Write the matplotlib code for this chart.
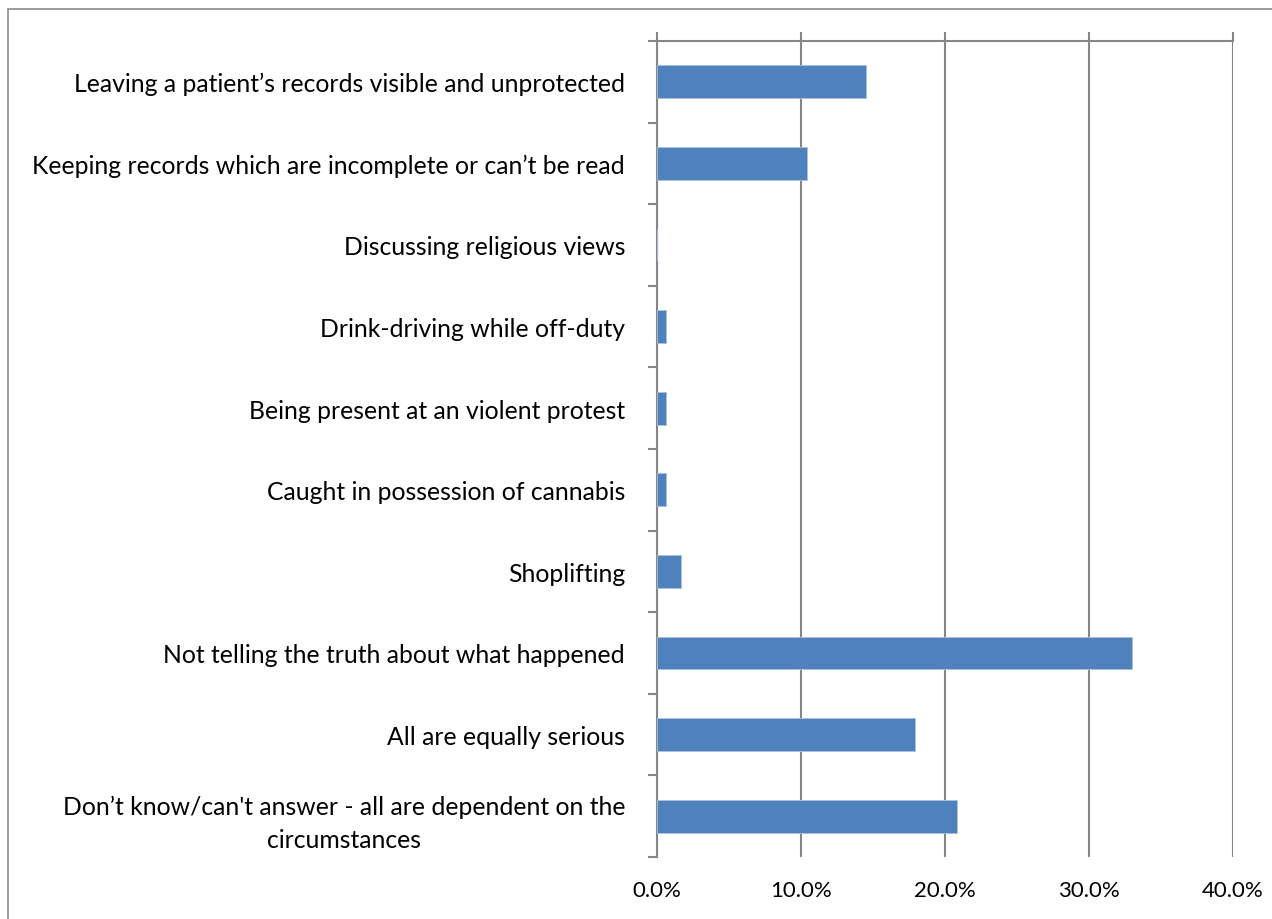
import matplotlib.pyplot as plt
from matplotlib.patches import Rectangle
from matplotlib.ticker import FuncFormatter, MultipleLocator
import numpy as np

categories = [
    "Leaving a patient\u2019s records visible and unprotected",
    "Keeping records which are incomplete or can\u2019t be read",
    "Discussing religious views",
    "Drink-driving while off-duty",
    "Being present at an violent protest",
    "Caught in possession of cannabis",
    "Shoplifting",
    "Not telling the truth about what happened",
    "All are equally serious",
    "Don\u2019t know/can't answer - all are dependent on the\ncircumstances",
]
values = [14.5, 10.4, 0.0, 0.6, 0.6, 0.6, 1.7, 33.0, 17.9, 20.8]

plt.rcParams['font.family'] = ['Lato', 'DejaVu Sans']
grey = '#868686'

fig = plt.figure(figsize=(12.72, 9.2), dpi=100)
ax = fig.add_axes([657 / 1272, 1 - 858 / 920, (1233 - 657) / 1272, (858 - 42) / 920])

y = np.arange(len(categories))
ax.barh(y, values, height=0.4, color='#4F81BD', edgecolor='#A9C1DF', linewidth=0.6, zorder=3)

ax.set_xlim(0, 40)
ax.set_ylim(len(categories) - 0.5, -0.5)
ax.set_yticks(y)
ax.set_yticklabels(categories, fontsize=17.8, multialignment='center', linespacing=1.5)
ax.set_yticks(np.arange(-0.5, len(categories)), minor=True)
ax.tick_params(axis='y', which='major', length=0, pad=23)
ax.tick_params(axis='y', which='minor', length=6.5, width=1.5, color=grey, direction='out')

ax.xaxis.set_major_locator(MultipleLocator(10))
ax.xaxis.set_major_formatter(FuncFormatter(lambda v, p: f"{v:.1f}%"))
ax.tick_params(axis='x', top=True, bottom=False, labeltop=False, labelbottom=True,
               length=6.5, width=1.5, color=grey, direction='out', labelsize=16, pad=10)
ax.grid(axis='x', color=grey, linewidth=1.5, zorder=0)
ax.set_axisbelow(True)

for side in ['right', 'bottom']:
    ax.spines[side].set_visible(False)
for side in ['left', 'top']:
    ax.spines[side].set_color(grey)
    ax.spines[side].set_linewidth(1.5)

fig.patches.append(Rectangle((8 / 1272, -0.05), 1.0, 1.05 - 10 / 920, transform=fig.transFigure,
                             fill=False, edgecolor='#8c8c8c', linewidth=1.2))

fig.savefig('out.png', dpi=100)
